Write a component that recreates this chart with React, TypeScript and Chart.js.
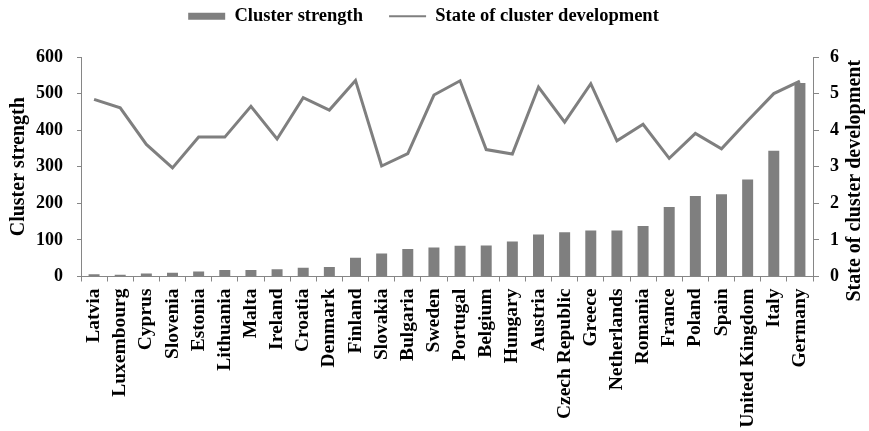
import React, { useEffect, useRef } from "react";
import { Chart, registerables } from "chart.js";

Chart.register(...registerables);

const categories: string[] = [
  "Latvia", "Luxembourg", "Cyprus", "Slovenia", "Estonia", "Lithuania", "Malta",
  "Ireland", "Croatia", "Denmark", "Finland", "Slovakia", "Bulgaria", "Sweden",
  "Portugal", "Belgium", "Hungary", "Austria", "Czech Republic", "Greece",
  "Netherlands", "Romania", "France", "Poland", "Spain", "United Kingdom", "Italy", "Germany",
];

const clusterStrength: number[] = [
  6, 5, 8, 10, 14, 18, 18, 20, 24, 26, 51, 63, 75, 79,
  84, 85, 96, 115, 121, 126, 126, 138, 190, 220, 225, 265, 344, 529,
];

const clusterDevelopment: number[] = [
  4.84, 4.61, 3.61, 2.97, 3.81, 3.81, 4.65, 3.76, 4.89, 4.55, 5.36, 3.02, 3.36, 4.96,
  5.35, 3.47, 3.35, 5.18, 4.22, 5.27, 3.71, 4.16, 3.23, 3.91, 3.49, 4.26, 5.0, 5.34,
];

const leftTicks = { min: 0, max: 600, step: 100 };
const rightTicks = { min: 0, max: 6, step: 1 };

const leftTitle = "Cluster strength";
const rightTitle = "State of cluster development";

const FONT = "'Liberation Serif', 'Times New Roman', serif";
const GRAY = "#7f7f7f";
const AXIS = "#868686";
const LEGEND_TOP = -19;

export default function App() {
  const ref = useRef<HTMLCanvasElement | null>(null);

  useEffect(() => {
    document.body.style.margin = "0";
    const canvas = ref.current;
    if (!canvas) return;

    const legendShift = {
      id: "legendShift",
      beforeDraw(chart: any) {
        const lg = chart.legend;
        if (!lg) return;
        const delta = LEGEND_TOP - lg.top;
        if (delta === 0) return;
        lg.top += delta;
        lg.bottom += delta;
        if (lg.legendHitBoxes) {
          for (const hb of lg.legendHitBoxes) hb.top += delta;
        }
      },
    };

    const titlePlugin = {
      id: "axisTitles",
      afterDraw(chart: any) {
        const { ctx, chartArea } = chart;
        ctx.save();
        ctx.fillStyle = "#000";
        ctx.font = `bold 20px ${FONT}`;
        ctx.textAlign = "center";
        ctx.textBaseline = "alphabetic";
        const midY = (chartArea.top + chartArea.bottom) / 2;
        ctx.save();
        ctx.translate(24, midY);
        ctx.rotate(-Math.PI / 2);
        ctx.fillText(leftTitle, 0, 0);
        ctx.restore();
        ctx.save();
        ctx.translate(chart.width - 9, midY + 14);
        ctx.rotate(-Math.PI / 2);
        ctx.fillText(rightTitle, 0, 0);
        ctx.restore();
        ctx.restore();
      },
    };

    const chart = new Chart(canvas, {
      type: "bar",
      data: {
        labels: categories,
        datasets: [
          {
            type: "bar",
            label: "Cluster strength",
            data: clusterStrength,
            backgroundColor: GRAY,
            borderWidth: 0,
            yAxisID: "y",
            barPercentage: 0.42,
            categoryPercentage: 1,
            order: 1,
          },
          {
            type: "line",
            label: "State of cluster development",
            data: clusterDevelopment,
            borderColor: GRAY,
            backgroundColor: GRAY,
            borderWidth: 3,
            pointRadius: 0,
            tension: 0,
            yAxisID: "y1",
            order: 0,
          } as any,
        ],
      },
      options: {
        responsive: false,
        animation: false,
        layout: { padding: { top: 0, right: 22, left: 0, bottom: 0 } },
        plugins: {
          tooltip: { enabled: false },
          legend: {
            position: "top",
            labels: {
              color: "#000",
              font: { family: FONT, size: 18.5, weight: "bold" },
              usePointStyle: true,
              pointStyleWidth: 37,
              boxHeight: 7,
              padding: 26,
              generateLabels: (ch: any) =>
                ch.data.datasets.map((ds: any, i: number) => ({
                  text: ds.label,
                  fillStyle: GRAY,
                  strokeStyle: GRAY,
                  lineWidth: i === 0 ? 0 : 2,
                  pointStyle: i === 0 ? "rect" : "line",
                  hidden: false,
                  datasetIndex: i,
                  fontColor: "#000",
                })),
            },
          },
        },
        scales: {
          x: {
            type: "category",
            offset: true,
            grid: {
              offset: true,
              drawOnChartArea: false,
              drawTicks: true,
              tickLength: 5,
              color: AXIS,
            },
            border: { color: AXIS, width: 1 },
            ticks: {
              autoSkip: false,
              minRotation: 90,
              maxRotation: 90,
              padding: 7,
              color: "#000",
              font: { family: FONT, size: 19.5, weight: "bold" },
            },
            afterFit: (s: any) => {
              s.height = 154.5;
              s.paddingLeft = 0;
              s.paddingRight = 0;
            },
          },
          y: {
            position: "left",
            min: leftTicks.min,
            max: leftTicks.max,
            grid: { drawOnChartArea: false, tickLength: 4, color: AXIS },
            border: { color: AXIS, width: 1 },
            ticks: {
              stepSize: leftTicks.step,
              padding: 14,
              color: "#000",
              font: { family: FONT, size: 18, weight: "bold" },
            },
            afterFit: (s: any) => {
              s.width = 81;
              s.paddingTop = 57;
              s.paddingBottom = 0;
            },
          },
          y1: {
            position: "right",
            min: rightTicks.min,
            max: rightTicks.max,
            grid: { drawOnChartArea: false, tickLength: 6, color: AXIS },
            border: { color: AXIS, width: 1 },
            ticks: {
              stepSize: rightTicks.step,
              padding: 11,
              color: "#000",
              font: { family: FONT, size: 18, weight: "bold" },
            },
            afterFit: (s: any) => {
              s.width = 34;
              s.paddingTop = 57;
              s.paddingBottom = 0;
            },
          },
        },
      },
      plugins: [legendShift, titlePlugin],
    });

    return () => chart.destroy();
  }, []);

  return (
    <div style={{ width: 869, height: 431 }}>
      <canvas ref={ref} width={869} height={431} />
    </div>
  );
}
